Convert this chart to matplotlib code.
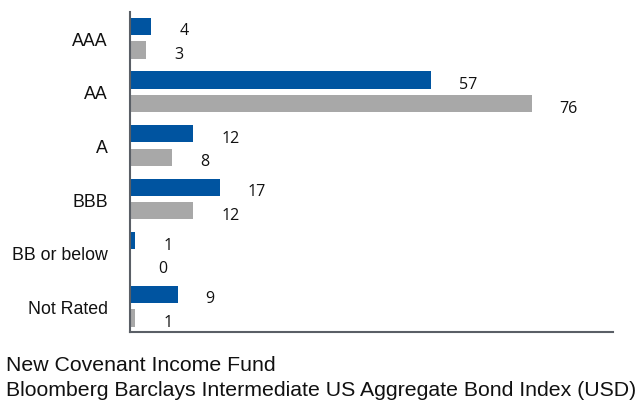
import matplotlib
matplotlib.use("Agg")
import matplotlib.pyplot as plt
import numpy as np

categories = ["AAA", "AA", "A", "BBB", "BB or below", "Not Rated"]
fund = [4, 57, 12, 17, 1, 9]
index = [3, 76, 8, 12, 0, 1]
series_names = ["New Covenant Income Fund",
                "Bloomberg Barclays Intermediate US Aggregate Bond Index (USD)"]

blue = "#0054A0"
gray = "#A8A8A8"

fig = plt.figure(figsize=(6.42, 4.02), dpi=100)
ax = fig.add_axes([130/642, 1-333/402, (613-130)/642, (333-13)/402])

y = np.arange(len(categories))
off = 0.22
h = 0.32
ax.barh(y - off, fund, height=h, color=blue)
ax.barh(y + off, index, height=h, color=gray)

for yi, v in zip(y - off, fund):
    ax.annotate(str(v), (v, yi), xytext=(28, -4), textcoords="offset pixels",
                ha="left", va="center", fontsize=11.5, family="Open Sans", color="#111111")
for yi, v in zip(y + off, index):
    ax.annotate(str(v), (v, yi), xytext=(28, -4), textcoords="offset pixels",
                ha="left", va="center", fontsize=11.5, family="Open Sans", color="#111111")

ax.set_xlim(0, 91.4)
ax.set_ylim(5.48, -0.49)
ax.set_yticks(y)
ax.set_yticklabels(categories, fontsize=12.8, family="Liberation Sans", color="#111111")
ax.tick_params(axis="y", length=0, pad=16)
ax.set_xticks([])
for s in ["top", "right"]:
    ax.spines[s].set_visible(False)
for s in ["left", "bottom"]:
    ax.spines[s].set_color("#5a5f66")
    ax.spines[s].set_linewidth(1.5)

fig.text(6/642, 1-366/402, series_names[0], fontsize=15.3, family="Liberation Sans",
         va="center", ha="left", color="#111111")
fig.text(6/642, 1-391/402, series_names[1], fontsize=15.3, family="Liberation Sans",
         va="center", ha="left", color="#111111")

fig.savefig("out.png", dpi=100)
